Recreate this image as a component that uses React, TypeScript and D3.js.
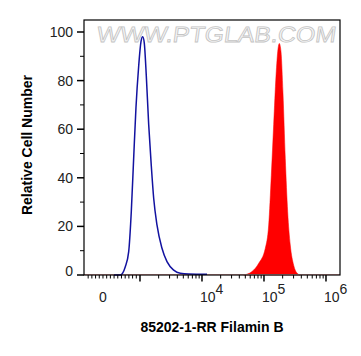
import React from "react";
import * as d3 from "d3";

// Control (blue, unfilled) histogram: fluorescence intensity vs relative count
const controlIntensity = [300, 467, 603, 695, 765, 829, 891, 965, 1038, 1107, 1172, 1264, 1381, 1521, 1663, 1879, 2263, 2725, 3499, 4467, 6095, 12050];
const controlCount = [0, 0, 3.4, 9.6, 26, 48, 68.7, 86, 96, 98, 95.5, 82, 62, 45, 31.6, 20.6, 11, 5.5, 2, 0.7, 0.4, 0.3];

// Filamin B stained (red, filled) histogram
const stainedIntensity = [47100, 63970, 82200, 105000, 119100, 131200, 143300, 156300, 168300, 176600, 188000, 202400, 220600, 241000, 265500, 301300, 340500, 384600];
const stainedCount = [0, 1.4, 4.8, 11, 20.6, 41, 62, 82, 93, 95.3, 92, 75, 48, 26, 12.3, 4, 0.8, 0];

const yTicks = [0, 20, 40, 60, 80, 100];
const yMinorTicks = [10, 30, 50, 70, 90];
const xMajorTicks = [1e3, 1e4, 1e5, 1e6];
const xLabelTicks = [
  { v: 0, base: "0", exp: "" },
  { v: 1e4, base: "10", exp: "4" },
  { v: 1e5, base: "10", exp: "5" },
  { v: 1e6, base: "10", exp: "6" },
];

const LIN_K = 0.597; // decades occupied by the linear 0..1000 region

// logicle-like display transform
function logicle(v: number): number {
  return v >= 1000 ? Math.log10(v) : 3 + ((v - 1000) / 1000) * LIN_K;
}

function buildMinorTicks(): number[] {
  const t: number[] = [];
  for (let v = -400; v < 1000; v += 100) t.push(v);
  for (let e = 3; e < 6; e++) for (let m = 2; m <= 9; m++) t.push(m * Math.pow(10, e));
  return t;
}

export default function App() {
  const W = 361, H = 356;
  const left = 84, right = 340, top = 20, bottom = 275;

  const xd = d3.scaleLinear().domain([2.097, 6.226]).range([left, right]);
  const x = (v: number) => xd(logicle(v));
  const y = d3.scaleLinear().domain([0, 100]).range([275, 32]);

  const font = "Liberation Sans, Arial, sans-serif";

  const controlPts = controlIntensity.map((v, i) => [x(v), y(controlCount[i])] as [number, number]);
  const stainedPts = stainedIntensity.map((v, i) => [x(v), y(stainedCount[i])] as [number, number]);

  const line = d3.line<[number, number]>().x(d => d[0]).y(d => d[1]).curve(d3.curveMonotoneX);
  const area = d3.area<[number, number]>().x(d => d[0]).y0(y(0)).y1(d => d[1]).curve(d3.curveMonotoneX);

  const minor = buildMinorTicks();

  return (
    <svg width={W} height={H} style={{ display: "block", position: "absolute", left: 0, top: 0 }} fontFamily={font}>
      <rect x={0} y={0} width={W} height={H} fill="#fff" />
      {/* watermark */}
      <text x={97} y={42} fontSize={22} fill="#f7f7f7" stroke="#c4c4c4" strokeWidth={0.8}
        transform="skewX(-8)" dx={5}
        textLength={239} lengthAdjust="spacingAndGlyphs">WWW.PTGLAB.COM</text>

      {/* histograms */}
      <path d={area(stainedPts) || ""} fill="#ff0000" stroke="#ff0000" strokeWidth={0.5} />
      <line x1={left} x2={right} y1={y(0) - 0.5} y2={y(0) - 0.5} stroke="#f4b4b4" strokeWidth={1} />
      <path d={line(controlPts) || ""} fill="none" stroke="#1212a0" strokeWidth={1.5} />

      {/* frame */}
      <rect x={left} y={top} width={right - left} height={bottom - top} fill="none" stroke="#000" strokeWidth={1.2} />

      {/* y axis */}
      {yTicks.map(t => (
        <g key={"y" + t}>
          <line x1={77} x2={left} y1={y(t)} y2={y(t)} stroke="#000" strokeWidth={1.5} />
          <text x={73} y={y(t) + 5 - (t === 0 ? 4 : 0)} fontSize={14} textAnchor="end" fill="#222">{t}</text>
        </g>
      ))}
      {yMinorTicks.map(t => (
        <line key={"ym" + t} x1={80} x2={left} y1={y(t)} y2={y(t)} stroke="#000" strokeWidth={1} />
      ))}

      {/* x axis */}
      {minor.map((t, i) => {
        const px = x(t);
        if (px < left + 1 || px > right - 1) return null;
        return <line key={"xm" + i} x1={px} x2={px} y1={bottom} y2={bottom + 3.5} stroke="#000" strokeWidth={1} />;
      })}
      {xMajorTicks.map(t => (
        <line key={"xM" + t} x1={x(t)} x2={x(t)} y1={bottom} y2={bottom + 6.5} stroke="#000" strokeWidth={1.5} />
      ))}
      {xLabelTicks.map(t => (
        t.exp === "" ? (
          <text key={"xl" + t.v} x={x(t.v)} y={302} fontSize={14} textAnchor="middle" fill="#222">{t.base}</text>
        ) : (
          <text key={"xl" + t.v} x={x(t.v) - 2} y={302} fontSize={14} fill="#222">
            {t.base}
            <tspan dy={-8} fontSize={14}>{t.exp}</tspan>
          </text>
        )
      ))}

      {/* axis titles */}
      <text x={212} y={332} fontSize={14} fontWeight="bold" textAnchor="middle" fill="#000">85202-1-RR Filamin B</text>
      <text transform={`translate(32,145) rotate(-90)`} fontSize={14} fontWeight="bold" textAnchor="middle" fill="#000">Relative Cell Number</text>
    </svg>
  );
}
